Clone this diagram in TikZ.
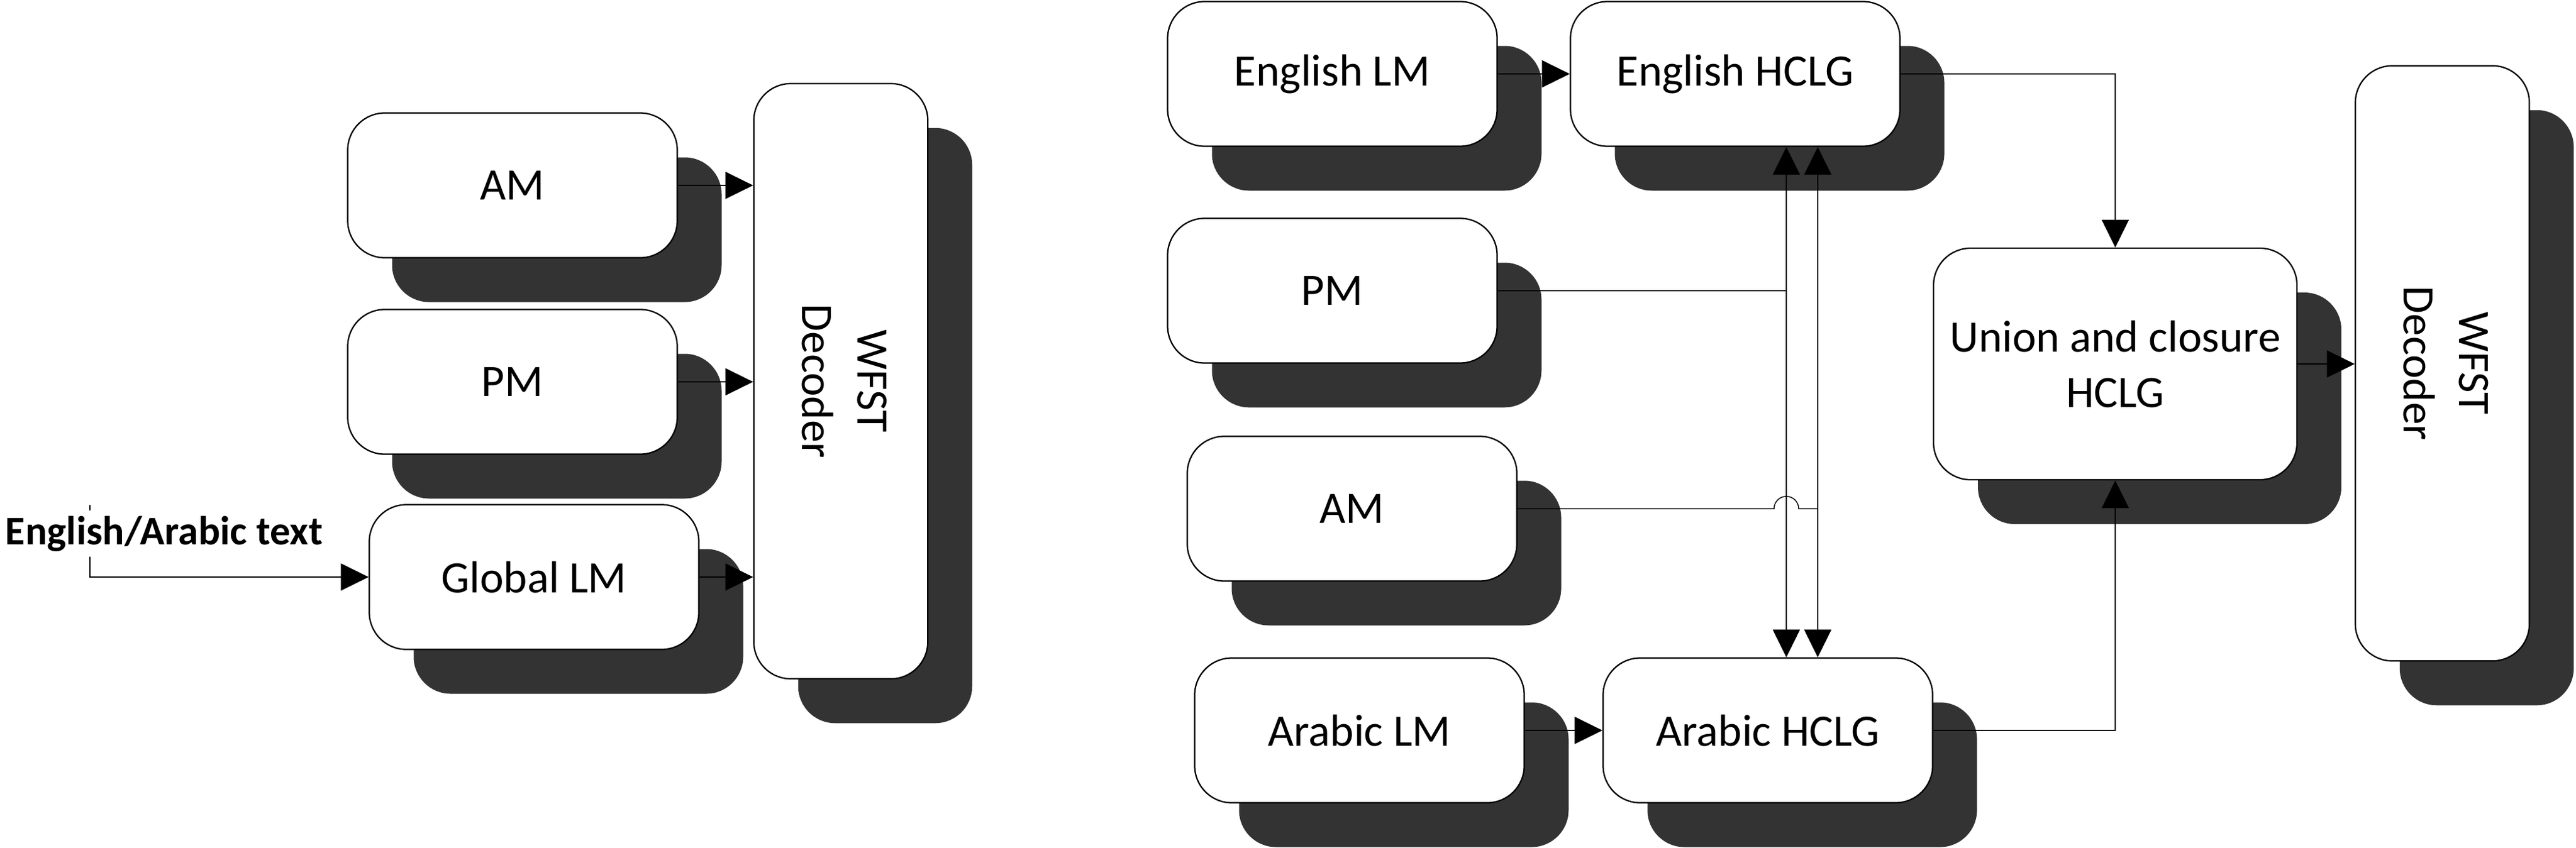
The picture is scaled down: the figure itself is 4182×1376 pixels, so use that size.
\documentclass[tikz,border=0pt]{standalone}
\usepackage{fontspec}
\setmainfont{Carlito}
\usepackage{graphicx}
\usetikzlibrary{arrows.meta,shadows}
\definecolor{shadowc}{HTML}{333333}
\newcommand{\dectext}{\rotatebox{-90}{\begin{tabular}{@{}c@{}}WFST\\Decoder\end{tabular}}}
\begin{document}
\begin{tikzpicture}[x=0.2pt,y=-0.2pt,
  boxstyle/.style={draw=black, line width=0.45pt, fill=white, rounded corners=12pt, inner sep=0pt, align=center,
    font=\fontsize{14.6pt}{18pt}\selectfont,
    drop shadow={shadow xshift=14.4pt, shadow yshift=-14.4pt, fill=shadowc, opacity=1}},
  small/.style={boxstyle, minimum width=107pt, minimum height=47pt},
  unionbox/.style={boxstyle, minimum width=118pt, minimum height=75.2pt},
  decoder/.style={boxstyle, minimum width=56.5pt, minimum height=193.3pt},
  conn/.style={draw=black, line width=0.3pt},
  arr/.style={conn, -{Triangle[length=9pt,width=8.8pt]}},
]
\useasboundingbox (0,0) rectangle (4182,1376);
% left part
\node[small] (aml) at (832,301) {AM};
\node[small] (pml) at (832,620) {PM};
\node[small] (glm) at (867,937) {Global LM};
\node[decoder] (decl) at (1365,619) {\dectext};
% right part
\node[small] (elm) at (2163,120) {English LM};
\node[small] (eh) at (2817,120) {English HCLG};
\node[small] (pmr) at (2163,472) {PM};
\node[small] (amr) at (2195,826) {AM};
\node[small] (alm) at (2207,1186) {Arabic LM};
\node[small] (ah) at (2870,1186) {Arabic HCLG};
\node[unionbox] (un) at (3434,591) {Union and closure\\HCLG};
\node[decoder] (decr) at (3965,590) {\dectext};
% connectors left
\draw[arr] (aml.east) -- (aml.east -| decl.west);
\draw[arr] (pml.east) -- (pml.east -| decl.west);
\draw[arr] (glm.east) -- (glm.east -| decl.west);
\coordinate (in0) at (146,820);
\draw[arr] (in0) |- (glm.west);
\node[anchor=base west, inner xsep=0pt, inner ysep=1.8pt, fill=white, font=\bfseries\fontsize{13.2pt}{16pt}\selectfont] (lbl) at (8,884) {English/Arabic text};
% connectors right
\draw[arr] (elm.east) -- (eh.west);
\draw[arr] (alm.east) -- (ah.west);
\coordinate (pj) at (2900,472);
\draw[conn] (pmr.east) -- (pj);
\draw[arr] (pj) -- (pj |- eh.south);
\draw[arr] (pj) -- (pj |- ah.north);
\coordinate (aj) at (2951,826);
\coordinate (hop) at (2880,826);
\draw[conn] (amr.east) -- (hop) arc[start angle=180, end angle=0, radius=4pt] -- (aj);
\draw[arr] (aj) -- (aj |- eh.south);
\draw[arr] (aj) -- (aj |- ah.north);
\draw[arr] (eh.east) -| (un.north);
\draw[arr] (ah.east) -| (un.south);
\draw[arr] (un.east) -- (un.east -| decr.west);
\end{tikzpicture}
\end{document}
